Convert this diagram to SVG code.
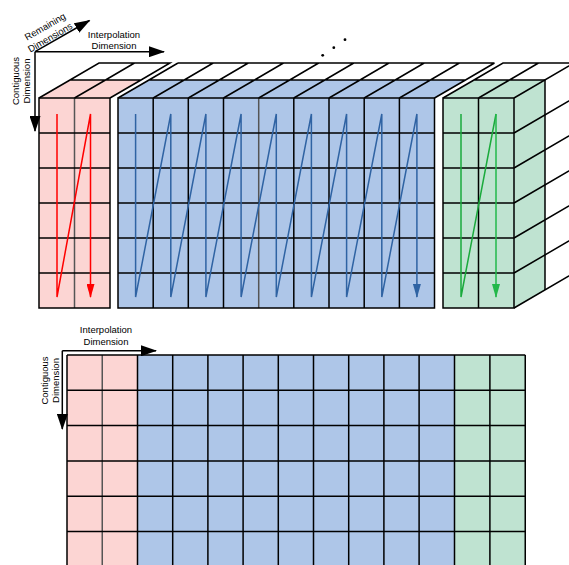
<svg xmlns="http://www.w3.org/2000/svg" width="569" height="565" viewBox="0 0 569 565">
<defs>
<style>
.ln{stroke:#000;stroke-width:1.5;fill:none}
.gy{stroke:#555;stroke-width:1.5;fill:none}
.pk{fill:#fcd5d3}
.bl{fill:#aec6e8}
.gr{fill:#bfe3d1}
.wt{fill:#fff}
.txt{font-family:"Liberation Sans",Arial,sans-serif;font-size:9.5px;fill:#000;text-anchor:middle}
.ax{stroke:#000;stroke-width:1.5;fill:none}
</style>
<marker id="ahk" markerUnits="userSpaceOnUse" markerWidth="16" markerHeight="11" viewBox="0 0 16 11" refX="15" refY="5.5" orient="auto"><path d="M0,0 L16,5.5 L0,11 Z" fill="#000"/></marker>
<marker id="ahr" markerUnits="userSpaceOnUse" markerWidth="14" markerHeight="8" viewBox="0 0 14 8" refX="13" refY="4" orient="auto"><path d="M0,0 L14,4 L0,8 Z" fill="#ff0000"/></marker>
<marker id="ahb" markerUnits="userSpaceOnUse" markerWidth="14" markerHeight="8" viewBox="0 0 14 8" refX="13" refY="4" orient="auto"><path d="M0,0 L14,4 L0,8 Z" fill="#2f63a3"/></marker>
<marker id="ahg" markerUnits="userSpaceOnUse" markerWidth="14" markerHeight="8" viewBox="0 0 14 8" refX="13" refY="4" orient="auto"><path d="M0,0 L14,4 L0,8 Z" fill="#22b84a"/></marker>
</defs>

<g id="block-pink">
<polygon class="pk" points="39,98 110,98 141,80 70,80"/>
<polygon class="wt" points="70,80 141,80 170,63 99,63"/>
<rect class="pk" x="39" y="98" width="71" height="210"/>
<path class="ln" d="M39,98 L70,80 L99,63 H170 L141,80 L110,98 M70,80 H141 M74.5,98 L105.5,80 L134.5,63"/>
<path class="gy" d="M74.5,98 V308"/>
<path class="ln" d="M39,98 H110 V308 H39 Z M39,133 H110 M39,168 H110 M39,203 H110 M39,238 H110 M39,273 H110"/>
</g>

<g id="block-blue">
<polygon class="bl" points="118,98 434.5,98 465.5,80 149,80"/>
<polygon class="wt" points="149,80 465.5,80 494.5,63 178,63"/>
<rect class="bl" x="118" y="98" width="316.5" height="210"/>
<path class="ln" d="M149,80 H465.5 M178,63 H494.5
M118,98 L149,80 L178,63 M153.2,98 L184.2,80 L213.2,63 M188.3,98 L219.3,80 L248.3,63 M223.5,98 L254.5,80 L283.5,63 M258.7,98 L289.7,80 L318.7,63 M293.8,98 L324.8,80 L353.8,63 M329,98 L360,80 L389,63 M364.2,98 L395.2,80 L424.2,63 M399.4,98 L430.4,80 L459.4,63 M434.5,98 L465.5,80 L494.5,63"/>
<path class="ln" d="M153.2,98 V308 M188.3,98 V308 M223.5,98 V308 M293.8,98 V308 M329,98 V308 M364.2,98 V308 M399.4,98 V308"/>
<path class="gy" d="M258.7,98 V308"/>
<path class="ln" d="M118,98 H434.5 V308 H118 Z M118,133 H434.5 M118,168 H434.5 M118,203 H434.5 M118,238 H434.5 M118,273 H434.5"/>
</g>

<g id="block-green">
<polygon class="gr" points="443,98 514,98 545,80 474,80"/>
<polygon class="wt" points="474,80 545,80 574,63 503,63"/>
<polygon class="gr" points="514,98 545,80 545,290 514,308"/>
<rect class="gr" x="443" y="98" width="71" height="210"/>
<path class="ln" d="M443,98 L474,80 L503,63 H574 M474,80 H545 M478.5,98 L509.5,80 L538.5,63 M545,80 V290"/>
<path class="ln" d="M514,98 L574,63 M514,133 L574,98 M514,168 L574,133 M514,203 L574,168 M514,238 L574,203 M514,273 L574,238 M514,308 L574,273"/>
<path class="ln" d="M478.5,98 V308 M443,98 H514 V308 H443 Z M443,133 H514 M443,168 H514 M443,203 H514 M443,238 H514 M443,273 H514"/>
</g>

<g id="ellipsis">
<circle cx="322.7" cy="55.3" r="1.4" fill="#000"/>
<circle cx="333.8" cy="47.7" r="1.4" fill="#000"/>
<circle cx="345" cy="39.7" r="1.4" fill="#000"/>
</g>

<g id="grid-bottom">
<rect class="pk" x="67" y="355" width="70.5" height="212"/>
<rect class="bl" x="137.5" y="355" width="317" height="212"/>
<rect class="gr" x="454.5" y="355" width="70.75" height="212"/>
<path class="gy" d="M102.25,355 V567"/>
<path class="ln" d="M67,355 V567 M137.5,355 V567 M172.7,355 V567 M207.9,355 V567 M243.1,355 V567 M278.3,355 V567 M313.5,355 V567 M348.7,355 V567 M383.9,355 V567 M419.1,355 V567 M454.5,355 V567 M489.9,355 V567 M525.25,355 V567"/>
<path class="ln" d="M67,355 H525.25 M67,390.3 H525.25 M67,425.6 H525.25 M67,460.9 H525.25 M67,496.2 H525.25 M67,531.5 H525.25"/>
</g>

<g id="connectors">
<path d="M57,114 V297 L90.5,114 V297" stroke="#ff0000" stroke-width="1.5" fill="none" marker-end="url(#ahr)"/>
<path d="M135.6,114 V297 L170.8,114 V297 L205.9,114 V297 L241.1,114 V297 L276.3,114 V297 L311.4,114 V297 L346.6,114 V297 L381.8,114 V297 L416.9,114 V297" stroke="#2f63a3" stroke-width="1.5" fill="none" marker-end="url(#ahb)"/>
<path d="M461,114 V297 L496,114" stroke="#1aaa3c" stroke-width="1.5" fill="none"/>
<path d="M496,114 V297" stroke="#22b84a" stroke-width="1.5" fill="none" marker-end="url(#ahg)"/>

<path class="ax" d="M35,51.7 H164" marker-end="url(#ahk)"/>
<path class="ax" d="M35,51.7 V131" marker-end="url(#ahk)"/>
<path class="ax" d="M35,51.7 L89.5,20.5" marker-end="url(#ahk)"/>
<path class="ax" d="M62.3,350.7 H156" marker-end="url(#ahk)"/>
<path class="ax" d="M62.3,350.7 V429" marker-end="url(#ahk)"/>
</g>

<g id="labels">
<text class="txt" x="114" y="37.5">Interpolation</text>
<text class="txt" x="114" y="49">Dimension</text>
<text class="txt" transform="translate(18.5,81) rotate(-90)">Contiguous</text>
<text class="txt" transform="translate(29.5,81) rotate(-90)">Dimension</text>
<text class="txt" transform="translate(46.7,29.4) rotate(-30)">Remaining</text>
<text class="txt" transform="translate(51.7,40.4) rotate(-30)">Dimensions</text>
<text class="txt" x="106" y="333.3">Interpolation</text>
<text class="txt" x="106" y="345">Dimension</text>
<text class="txt" transform="translate(47.5,380.5) rotate(-90)">Contiguous</text>
<text class="txt" transform="translate(58.5,380.5) rotate(-90)">Dimension</text>
</g>
</svg>
